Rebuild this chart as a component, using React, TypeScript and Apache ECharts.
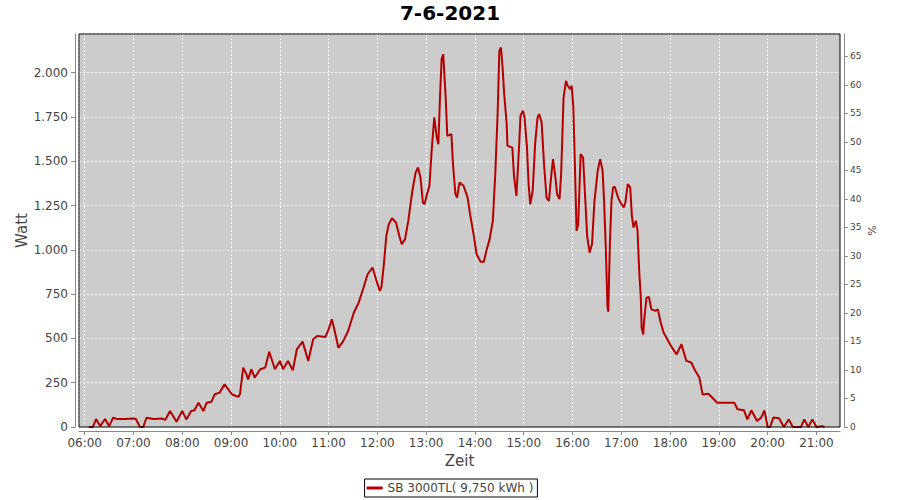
import React, { useEffect, useRef } from "react";
import * as echarts from "echarts";

const chartTitle = "7-6-2021";
const seriesName = "SB 3000TL( 9,750 kWh )";

const times: string[] = [
  "06:05","06:10","06:14","06:19","06:25","06:30","06:35","06:40","06:50","07:00","07:03","07:08","07:12","07:16","07:25","07:35","07:39","07:45","07:53","08:00",
  "08:05","08:11","08:15","08:20","08:26","08:30","08:36","08:40","08:46","08:52","09:01","09:09","09:11","09:15","09:19","09:21","09:25","09:29","09:36","09:42",
  "09:47","09:54","10:00","10:04","10:10","10:16","10:21","10:28","10:35","10:41","10:46","10:56","11:00","11:04","11:08","11:12","11:18","11:24","11:31","11:37",
  "11:43","11:48","11:54","11:59","12:03","12:05","12:08","12:11","12:14","12:18","12:23","12:27","12:30","12:34","12:38","12:43","12:47","12:50","12:53","12:56",
  "12:58","13:01","13:04","13:07","13:10","13:13","13:15","13:17","13:19","13:21","13:24","13:26","13:31","13:33","13:36","13:38","13:41","13:46","13:51","13:54",
  "13:59","14:02","14:07","14:11","14:14","14:18","14:22","14:25","14:28","14:30","14:32","14:34","14:36","14:39","14:40","14:46","14:48","14:51","14:54","14:56",
  "14:59","15:01","15:04","15:06","15:08","15:11","15:14","15:17","15:19","15:22","15:25","15:28","15:31","15:34","15:36","15:39","15:41","15:44","15:46","15:49",
  "15:52","15:54","15:57","15:59","16:01","16:03","16:05","16:07","16:10","16:13","16:16","16:18","16:21","16:24","16:27","16:31","16:34","16:37","16:39","16:41",
  "16:43","16:44","16:46","16:48","16:50","16:52","16:56","16:59","17:03","17:05","17:08","17:11","17:13","17:15","17:18","17:20","17:22","17:24","17:25","17:27",
  "17:28","17:31","17:34","17:37","17:42","17:45","17:48","17:52","18:01","18:08","18:14","18:20","18:26","18:31","18:36","18:40","18:47","18:52","18:58","19:19",
  "19:23","19:31","19:35","19:40","19:47","19:52","19:56","20:00","20:03","20:07","20:14","20:20","20:26","20:31","20:41","20:45","20:50","20:55","21:00","21:07",
  "21:10"
];

const watts: number[] = [
  0,0,45,5,45,5,52,45,45,48,45,0,0,52,45,48,40,90,30,90,
  43,90,94,137,90,137,143,185,194,241,185,170,185,335,297,269,326,279,326,335,
  425,326,373,326,373,320,439,482,373,495,514,508,551,608,532,447,485,542,645,702,
  787,862,900,824,768,790,919,1078,1144,1178,1153,1078,1031,1059,1163,1332,1436,1465,1408,1267,
  1257,1314,1361,1577,1747,1634,1596,1860,2076,2104,1860,1643,1653,1483,1314,1295,1380,1361,1295,1201,
  1069,975,933,933,994,1059,1163,1427,1785,2123,2142,2029,1879,1710,1587,1577,1418,1304,1559,1757,
  1785,1747,1577,1370,1257,1332,1596,1747,1766,1719,1483,1295,1276,1427,1512,1408,1314,1286,1427,1860,
  1954,1926,1907,1926,1804,1465,1107,1144,1540,1521,1257,1078,984,1031,1276,1446,1512,1446,1257,1000,
  680,650,1040,1280,1352,1356,1296,1267,1239,1267,1371,1352,1192,1126,1164,1107,881,730,560,522,
  598,730,734,664,655,664,598,533,458,410,467,373,364,317,279,184,188,165,137,137,
  100,94,43,94,34,53,94,0,0,53,49,0,43,0,0,43,0,43,0,5,
  0
];

const xStart = "05:53";
const xEnd = "21:29";
const wattMax = 2218;
const percentMax = 68.9;

const FONT = "DejaVu Sans";
const LINE_COLOR = "#b40000";
const GRID = { left: 79, right: 60, top: 34, bottom: 73 };

function toMs(t: string): number {
  const [h, m] = t.split(":").map(Number);
  return new Date(2021, 5, 7, h, m).getTime();
}

function fmtThousands(v: number): string {
  return String(Math.round(v)).replace(/\B(?=(\d{3})+(?!\d))/g, ".");
}

export default function App() {
  const ref = useRef<HTMLDivElement>(null);
  useEffect(() => {
    if (!ref.current) return;
    const chart = echarts.init(ref.current, undefined, { renderer: "svg" });
    const data = times.map((t, i) => [toMs(t), watts[i]]);
    const axisLineStyle = { color: "#888", width: 1 };
    const W = 900, H = 500;
    chart.setOption({
      animation: false,
      backgroundColor: "#ffffff",
      title: {
        text: chartTitle,
        left: "center",
        top: 3,
        padding: 0,
        textStyle: { fontFamily: FONT, fontSize: 20, fontWeight: "bold", color: "#000" },
      },
      legend: {
        bottom: 3,
        left: "center",
        borderColor: "#000",
        borderWidth: 1,
        borderRadius: 0,
        padding: [3, 4, 3, 2],
        icon: "rect",
        itemWidth: 16,
        itemHeight: 3,
        textStyle: { fontFamily: FONT, fontSize: 12, color: "#444" },
        data: [seriesName],
      },
      grid: {
        ...GRID,
        show: true,
        backgroundColor: "#cccccc",
        borderWidth: 0,
        outerBoundsMode: "none",
      },
      graphic: [
        {
          type: "rect",
          z: 100,
          silent: true,
          shape: {
            x: GRID.left,
            y: GRID.top,
            width: W - GRID.left - GRID.right,
            height: H - GRID.top - GRID.bottom,
          },
          style: { fill: "none", stroke: "#000", lineWidth: 1 },
        },
      ],
      xAxis: {
        type: "time",
        min: toMs(xStart),
        max: toMs(xEnd),
        minInterval: 3600 * 1000,
        maxInterval: 3600 * 1000,
        offset: 4,
        name: "Zeit",
        nameLocation: "middle",
        nameGap: 22,
        nameMoveOverlap: false,
        nameTextStyle: { fontFamily: FONT, fontSize: 15, color: "#444" },
        axisLine: { show: true, onZero: false, lineStyle: axisLineStyle },
        axisTick: { show: true, length: 4, lineStyle: axisLineStyle },
        axisLabel: {
          formatter: "{HH}:{mm}",
          showMinLabel: false,
          showMaxLabel: false,
          fontFamily: FONT,
          fontSize: 12,
          color: "#444",
          margin: 6,
        },
        splitLine: { show: true, lineStyle: { color: "#ffffff", type: [2, 2], width: 1 } },
      },
      yAxis: [
        {
          type: "value",
          min: 0,
          max: wattMax,
          interval: 250,
          position: "left",
          offset: 4,
          name: "Watt",
          nameLocation: "middle",
          nameGap: 46,
          nameMoveOverlap: false,
          nameTextStyle: { fontFamily: FONT, fontSize: 15, color: "#444" },
          axisLine: { show: true, lineStyle: axisLineStyle },
          axisTick: { show: true, length: 4, lineStyle: axisLineStyle },
          axisLabel: {
            formatter: (v: number) => fmtThousands(v),
            showMaxLabel: false,
            fontFamily: FONT,
            fontSize: 12,
            color: "#444",
            margin: 7,
          },
          splitLine: { show: true, lineStyle: { color: "#ffffff", type: [2, 2], width: 1 } },
        },
        {
          type: "value",
          min: 0,
          max: percentMax,
          interval: 5,
          position: "right",
          offset: 4,
          name: "%",
          nameLocation: "middle",
          nameGap: 23,
          nameMoveOverlap: false,
          nameTextStyle: { fontFamily: FONT, fontSize: 11, color: "#444" },
          axisLine: { show: true, lineStyle: axisLineStyle },
          axisTick: { show: true, length: 4, lineStyle: axisLineStyle },
          axisLabel: {
            showMaxLabel: false,
            fontFamily: FONT,
            fontSize: 9,
            color: "#444",
            margin: 6,
          },
          splitLine: { show: false },
        },
      ],
      series: [
        {
          name: seriesName,
          type: "line",
          yAxisIndex: 0,
          data,
          showSymbol: false,
          symbol: "none",
          lineStyle: { color: LINE_COLOR, width: 2 },
          itemStyle: { color: LINE_COLOR },
        },
      ],
    });
    return () => chart.dispose();
  }, []);
  return (
    <div
      ref={ref}
      style={{ position: "absolute", left: 0, top: 0, width: 900, height: 500 }}
    />
  );
}
